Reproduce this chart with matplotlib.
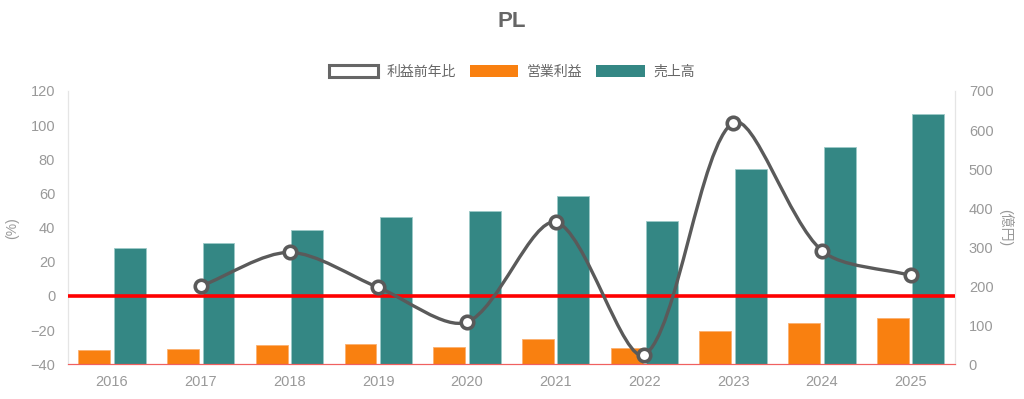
import numpy as np
import matplotlib
matplotlib.use("Agg")
from matplotlib import pyplot as plt
from matplotlib.patches import Patch, PathPatch
from matplotlib.path import Path

plt.rcParams["font.family"] = ["Liberation Sans", "Noto Sans CJK JP", "DejaVu Sans"]

anos = ["2016", "2017", "2018", "2019", "2020", "2021", "2022", "2023", "2024", "2025"]
uriage = [297, 311, 345, 378, 393, 431, 368, 501, 557, 640]          # 売上高 (億円)
eigyo_rieki = [37, 40, 49, 52, 44, 64, 41, 84, 106, 119]             # 営業利益 (億円)
rieki_yoy = [None, 5.7, 25.5, 5.0, -15.3, 43.2, -34.4, 101.4, 26.5, 12.0]  # 利益前年比 (%)

COR_TEAL = "#348784"
COR_LARANJA = "#f98010"
COR_LINHA = "#5a5a5a"
COR_TEXTO = "#999999"

fig = plt.figure(figsize=(10.24, 3.99), dpi=100)
ax = fig.add_axes([0.0661, 0.087, 0.8665, 0.685])
ax2 = ax.twinx()

x = np.arange(len(anos))
larg = 0.36
ax2.bar(x - 0.2, eigyo_rieki, width=larg, color=COR_LARANJA, edgecolor="#fbb070",
        linewidth=0.6, zorder=2)
ax2.bar(x + 0.2, uriage, width=larg, color=COR_TEAL, edgecolor="#9ccac8",
        linewidth=0.6, zorder=2)

ax.set_xlim(-0.5, len(anos) - 0.5)
ax.set_ylim(-40, 120)
ax2.set_ylim(0, 700)
ax.set_yticks(range(-40, 121, 20))
ax2.set_yticks(range(0, 701, 100))
ax.set_xticks(x)
ax.set_xticklabels(anos)

# linha por cima das barras
ax.set_zorder(ax2.get_zorder() + 1)
ax.patch.set_visible(False)

ax.axhline(0, color="#ff0000", lw=2.6, zorder=3)

# curva suave (bezier estilo chart.js, calculada em pixels)
xs = [i for i, v in enumerate(rieki_yoy) if v is not None]
ys = [v for v in rieki_yoy if v is not None]
pts = ax.transData.transform(np.column_stack([xs, ys]))
tens = 0.3
verts = [pts[0]]
codes = [Path.MOVETO]
cps = []
for i in range(len(pts)):
    prev = pts[max(i - 1, 0)]
    cur = pts[i]
    nxt = pts[min(i + 1, len(pts) - 1)]
    d01 = np.hypot(*(cur - prev))
    d12 = np.hypot(*(nxt - cur))
    s01 = d01 / (d01 + d12) if d01 + d12 else 0
    s12 = d12 / (d01 + d12) if d01 + d12 else 0
    cp_prev = cur - tens * s01 * (nxt - prev)
    cp_next = cur + tens * s12 * (nxt - prev)
    cps.append((cp_prev, cp_next))
for i in range(1, len(pts)):
    verts += [cps[i - 1][1], cps[i][0], pts[i]]
    codes += [Path.CURVE4] * 3
inv = ax.transData.inverted()
curva = Path(inv.transform(np.array(verts)), codes)
ax.add_patch(PathPatch(curva, facecolor="none", edgecolor=COR_LINHA, lw=2.4, zorder=4))
ax.plot(xs, ys, linestyle="none", marker="o", markersize=9, markerfacecolor="white",
        markeredgecolor=COR_LINHA, markeredgewidth=2.6, zorder=5)

for a in (ax, ax2):
    a.spines["top"].set_visible(False)
    a.spines["left"].set_color("#e5e5e5")
    a.spines["right"].set_color("#e5e5e5")
    a.spines["bottom"].set_color("#f06060")
    a.tick_params(length=0, colors=COR_TEXTO, labelsize=10.5)
ax.tick_params(axis="y", pad=9)
ax2.tick_params(axis="y", pad=10)
ax.tick_params(axis="x", pad=8)

ax.set_ylabel("(%)", color=COR_TEXTO, fontsize=10, labelpad=8)
ax2.set_ylabel("(億円)", color=COR_TEXTO, fontsize=10, rotation=270, labelpad=14)

fig.text(0.5, 0.945, "PL", ha="center", va="center", fontsize=16, fontweight="bold",
         color="#666666")

handles = [
    Patch(facecolor="white", edgecolor="#666666", linewidth=2.2),
    Patch(facecolor=COR_LARANJA),
    Patch(facecolor=COR_TEAL),
]
fig.legend(handles, ["利益前年比", "営業利益", "売上高"], loc="center",
           bbox_to_anchor=(0.5, 0.82), ncol=3, frameon=False, fontsize=10,
           handlelength=3.5, handleheight=1.0, columnspacing=1.0, handletextpad=0.6,
           labelcolor="#666666")

fig.savefig("out.png", dpi=100)
plt.close(fig)
